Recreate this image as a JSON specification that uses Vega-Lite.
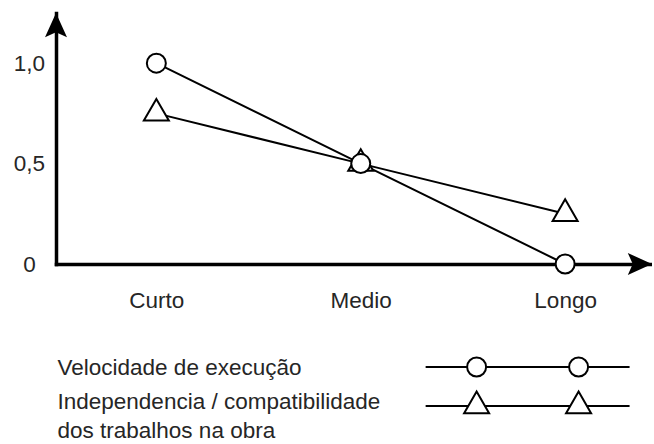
{
  "$schema": "https://vega.github.io/schema/vega-lite/v6.json",
  "background": "white",
  "padding": {"left": 13, "top": 13, "right": 0, "bottom": 0},
  "config": {
    "view": {"stroke": null},
    "font": "Liberation Sans",
    "concat": {"spacing": 10}
  },
  "datasets": {
    "pontos": [
      {"prazo": "Curto", "ordem": 1, "serie": "Velocidade de execução", "valor": 1.0},
      {"prazo": "Medio", "ordem": 2, "serie": "Velocidade de execução", "valor": 0.5},
      {"prazo": "Longo", "ordem": 3, "serie": "Velocidade de execução", "valor": 0.0},
      {"prazo": "Curto", "ordem": 1, "serie": "Independencia / compatibilidade dos trabalhos na obra", "valor": 0.75},
      {"prazo": "Medio", "ordem": 2, "serie": "Independencia / compatibilidade dos trabalhos na obra", "valor": 0.5},
      {"prazo": "Longo", "ordem": 3, "serie": "Independencia / compatibilidade dos trabalhos na obra", "valor": 0.25}
    ],
    "legenda": [
      {"serie": "Velocidade de execução", "rotulo": "Velocidade de execução"},
      {"serie": "Independencia / compatibilidade dos trabalhos na obra", "rotulo": "Independencia / compatibilidade\ndos trabalhos na obra"}
    ]
  },
  "vconcat": [
    {
      "width": 596,
      "height": 251,
      "data": {"name": "pontos"},
      "layer": [
        {
          "mark": {"type": "line", "color": "black", "strokeWidth": 2},
          "encoding": {
            "x": {
              "field": "ordem", "type": "quantitative",
              "scale": {"domain": [0.509, 3.425], "nice": false, "zero": false},
              "axis": {
                "values": [1, 2, 3],
                "labelExpr": "datum.value == 1 ? 'Curto' : datum.value == 2 ? 'Medio' : 'Longo'",
                "ticks": false, "grid": false, "title": null,
                "domainColor": "black", "domainWidth": 3.5, "domainCap": "square",
                "labelFontSize": 22.5, "labelColor": "#262626", "labelPadding": 25,
                "labelFlush": false, "labelOverlap": false, "labelFont": "Liberation Sans"
              }
            },
            "y": {
              "field": "valor", "type": "quantitative",
              "scale": {"domain": [0, 1.25], "nice": false, "zero": true},
              "axis": {
                "values": [0, 0.5, 1],
                "labelExpr": "datum.value == 1 ? '1,0' : datum.value == 0.5 ? '0,5' : '0'",
                "ticks": false, "grid": false, "title": null,
                "domainColor": "black", "domainWidth": 3.5, "domainCap": "square",
                "labelFontSize": 22.5, "labelColor": "#262626", "labelPadding": 27,
                "labelAlign": "center", "labelBaseline": "middle",
                "labelFlush": false, "labelOverlap": false, "labelFont": "Liberation Sans"
              }
            },
            "detail": {"field": "serie"}
          }
        },
        {
          "transform": [{"filter": "datum.serie == 'Independencia / compatibilidade dos trabalhos na obra'"}],
          "mark": {"type": "point", "shape": "M0,-1.155L1,0.577L-1,0.577Z", "size": 625, "filled": true, "fill": "white", "stroke": "black", "strokeWidth": 2, "opacity": 1},
          "encoding": {
            "x": {"field": "ordem", "type": "quantitative"},
            "y": {"field": "valor", "type": "quantitative"}
          }
        },
        {
          "transform": [{"filter": "datum.serie == 'Velocidade de execução'"}],
          "mark": {"type": "point", "shape": "circle", "size": 361, "filled": true, "fill": "white", "stroke": "black", "strokeWidth": 2, "opacity": 1},
          "encoding": {
            "x": {"field": "ordem", "type": "quantitative"},
            "y": {"field": "valor", "type": "quantitative"}
          }
        },
        {
          "data": {"values": [{"eixo": "y"}]},
          "mark": {"type": "point", "shape": "M0,0L1,2.2L0,1.75L-1,2.2Z", "size": 484, "filled": true, "color": "black", "opacity": 1, "strokeWidth": 0},
          "encoding": {
            "x": {"datum": 0.509, "type": "quantitative"},
            "y": {"datum": 1.25, "type": "quantitative"}
          }
        },
        {
          "data": {"values": [{"eixo": "x"}]},
          "mark": {"type": "point", "shape": "M0,0L-2.2,-1L-1.75,0L-2.2,1Z", "size": 484, "filled": true, "color": "black", "opacity": 1, "strokeWidth": 0},
          "encoding": {
            "x": {"datum": 3.425, "type": "quantitative"},
            "y": {"datum": 0, "type": "quantitative"}
          }
        }
      ]
    },
    {
      "width": 596,
      "height": 115,
      "data": {"name": "legenda"},
      "layer": [
        {
          "mark": {"type": "rule", "color": "black", "strokeWidth": 2},
          "encoding": {
            "x": {"datum": 0, "type": "quantitative", "scale": {"domain": [-7.25, 4.44], "nice": false, "zero": false}, "axis": null},
            "x2": {"datum": 4},
            "y": {"field": "serie", "type": "nominal", "scale": {"type": "point", "padding": 0, "domain": ["Velocidade de execução", "Independencia / compatibilidade dos trabalhos na obra"], "range": [45, 84]}, "axis": null}
          }
        },
        {
          "transform": [{"filter": "datum.serie == 'Velocidade de execução'"}],
          "mark": {"type": "text", "align": "left", "baseline": "alphabetic", "dy": 8, "fontSize": 22.5, "color": "#262626"},
          "encoding": {
            "x": {"datum": -7.22, "type": "quantitative"},
            "y": {"field": "serie", "type": "nominal"},
            "text": {"field": "rotulo"}
          }
        },
        {
          "transform": [{"filter": "datum.serie != 'Velocidade de execução'"}],
          "mark": {"type": "text", "align": "left", "baseline": "alphabetic", "dy": 3, "fontSize": 22.5, "color": "#262626", "lineBreak": "\n", "lineHeight": 29},
          "encoding": {
            "x": {"datum": -7.22, "type": "quantitative"},
            "y": {"field": "serie", "type": "nominal"},
            "text": {"field": "rotulo"}
          }
        },
        {
          "transform": [{"filter": "datum.serie == 'Velocidade de execução'"}],
          "mark": {"type": "point", "shape": "circle", "size": 361, "filled": true, "fill": "white", "stroke": "black", "strokeWidth": 2, "opacity": 1},
          "encoding": {
            "x": {"datum": 1, "type": "quantitative"},
            "y": {"field": "serie", "type": "nominal"}
          }
        },
        {
          "transform": [{"filter": "datum.serie == 'Velocidade de execução'"}],
          "mark": {"type": "point", "shape": "circle", "size": 361, "filled": true, "fill": "white", "stroke": "black", "strokeWidth": 2, "opacity": 1},
          "encoding": {
            "x": {"datum": 3, "type": "quantitative"},
            "y": {"field": "serie", "type": "nominal"}
          }
        },
        {
          "transform": [{"filter": "datum.serie != 'Velocidade de execução'"}],
          "mark": {"type": "point", "shape": "M0,-1.155L1,0.577L-1,0.577Z", "size": 625, "filled": true, "fill": "white", "stroke": "black", "strokeWidth": 2, "opacity": 1},
          "encoding": {
            "x": {"datum": 1, "type": "quantitative"},
            "y": {"field": "serie", "type": "nominal"}
          }
        },
        {
          "transform": [{"filter": "datum.serie != 'Velocidade de execução'"}],
          "mark": {"type": "point", "shape": "M0,-1.155L1,0.577L-1,0.577Z", "size": 625, "filled": true, "fill": "white", "stroke": "black", "strokeWidth": 2, "opacity": 1},
          "encoding": {
            "x": {"datum": 3, "type": "quantitative"},
            "y": {"field": "serie", "type": "nominal"}
          }
        }
      ]
    }
  ]
}
